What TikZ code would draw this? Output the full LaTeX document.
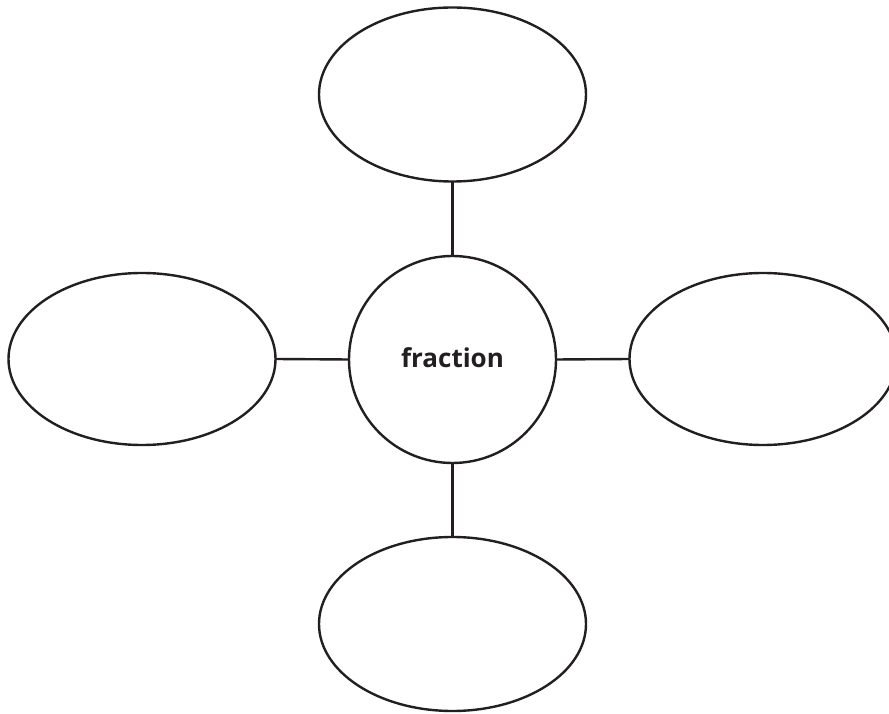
\documentclass[tikz,border=0pt]{standalone}
\usepackage{fontspec}
\setmainfont{Open Sans}
\usetikzlibrary{shapes.geometric}
\definecolor{ink}{HTML}{231F20}
\begin{document}
\begin{tikzpicture}[x=1pt,y=1pt,
    bubble/.style={draw=ink, line width=2.4pt, ellipse, inner sep=0pt, outer sep=0pt,
                   minimum width=267pt, minimum height=174pt},
    hub/.style={draw=ink, line width=2.4pt, circle, inner sep=0pt, outer sep=0pt,
                minimum size=207pt},
    link/.style={draw=ink, line width=2.4pt}]
  \useasboundingbox (0,0) rectangle (889,713);
  % central concept
  \node[hub] (hub) at (452.5,353.5) {};
  \node[anchor=base, text=ink, font=\fontsize{26}{30}\selectfont\bfseries] (label) at (452.5,345) {fraction};
  % surrounding empty bubbles
  \node[bubble] (top) at (452.5,618.5) {};
  \node[bubble] (bottom) at (452.5,89) {};
  \node[bubble, minimum height=172pt] (left) at (142,354) {};
  \node[bubble, minimum height=172pt] (right) at (763,354) {};
  % spokes
  \draw[link] (top.south) -- (hub.north);
  \draw[link] (hub.south) -- (bottom.north);
  \draw[link] (left.east) -- (hub.west);
  \draw[link] (hub.east) -- (right.west);
\end{tikzpicture}
\end{document}
